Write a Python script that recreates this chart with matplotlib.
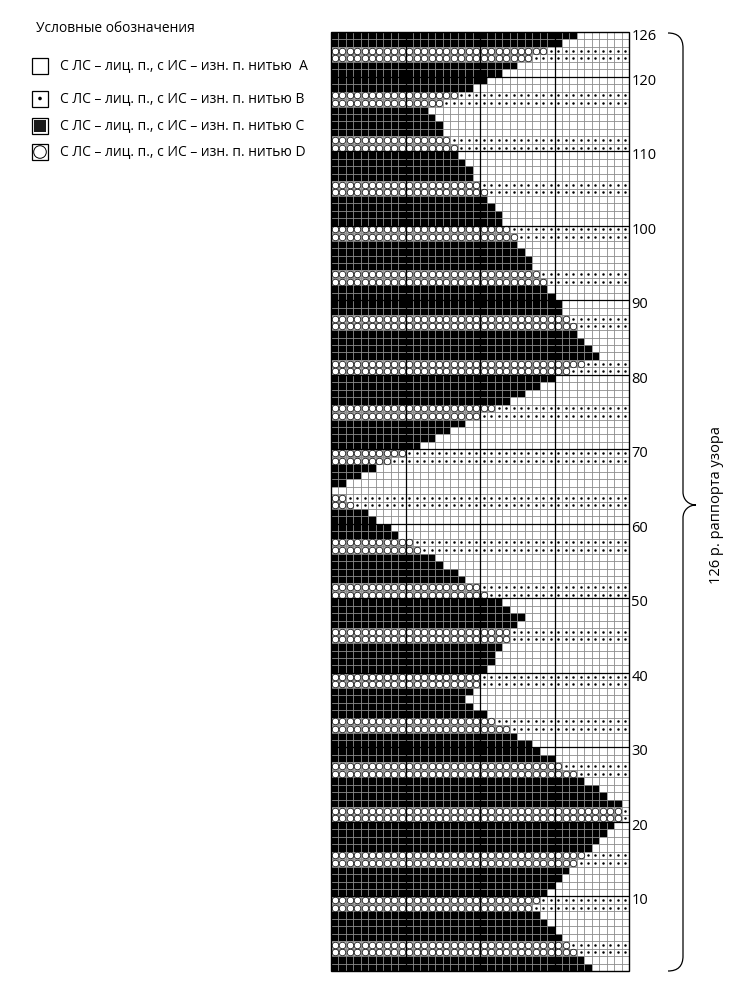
import matplotlib
matplotlib.use('Agg')
import matplotlib.pyplot as plt
from matplotlib.patches import Rectangle, Circle, PathPatch
from matplotlib.path import Path
import numpy as np

plt.rcParams['font.family'] = ['Open Sans', 'DejaVu Sans']

# ---------------- data ----------------
n_cols = 40
n_rows = 126
# number of stitches (from the left) worked in thread C or D in each row, rows 1..126
left_counts = [35, 34, 33, 32, 31, 30, 29, 28, 27, 28,
               29, 30, 31, 32, 33, 34, 35, 36, 37, 38,
               39, 39, 39, 37, 36, 34, 33, 31, 30, 28,
               27, 25, 24, 22, 21, 19, 18, 19, 20, 20,
               21, 22, 22, 23, 24, 24, 25, 26, 24, 23,
               21, 20, 18, 17, 15, 14, 12, 11, 9, 8,
               6, 5, 3, 2, 0, 2, 4, 6, 8, 10,
               12, 14, 16, 18, 20, 22, 24, 26, 28, 30,
               32, 34, 36, 35, 34, 33, 33, 32, 31, 31,
               30, 29, 29, 28, 27, 27, 26, 25, 25, 24,
               23, 23, 22, 21, 21, 20, 19, 19, 18, 17,
               17, 16, 15, 15, 14, 13, 15, 17, 19, 21,
               23, 25, 27, 29, 31, 33]
# thread of the left part of each row (C = filled, D = circle); right part is A (empty) or B (dot)
left_thread = ("CCDDCCCCDDCCCCDDCCCCDDCCCCDDCCCCDDCCCCDDCC"
               "CCDDCCCCDDCCCCDDCCCCDDCCCCDDCCCCDDCCCCDDCC"
               "CCDDCCCCDDCCCCDDCCCCDDCCCCDDCCCCDDCCCCDDCC")
right_thread = {"C": "A", "D": "B"}

label_rows = [10, 20, 30, 40, 50, 60, 70, 80, 90, 100, 110, 120, 126]
label_texts = ["10", "20", "30", "40", "50", "60", "70", "80", "90", "100", "110", "120", "126"]

legend_title = "Условные обозначения"
legend_symbols = ["A", "B", "C", "D"]
legend_labels = ["С ЛС – лиц. п., с ИС – изн. п. нитью  A",
                 "С ЛС – лиц. п., с ИС – изн. п. нитью B",
                 "С ЛС – лиц. п., с ИС – изн. п. нитью C",
                 "С ЛС – лиц. п., с ИС – изн. п. нитью D"]
brace_label = "126 р. раппорта узора"

# ---------------- figure ----------------
W, H = 756, 1000
fig = plt.figure(figsize=(W / 100, H / 100), dpi=100)
fig.patch.set_facecolor('white')

gx0, gx1, gy0, gy1 = 331, 629, 32, 971  # grid box in pixels (y down)
ax = fig.add_axes([gx0 / W, 1 - gy1 / H, (gx1 - gx0) / W, (gy1 - gy0) / H])
ax.set_xlim(0, n_cols)
ax.set_ylim(0, n_rows)
ax.axis('off')

rows = np.arange(1, n_rows + 1)
counts = np.array(left_counts)
threads = np.array(list(left_thread))

# filled (C) runs
cmask = threads == "C"
ax.barh(rows[cmask] - 0.5, counts[cmask], height=1, left=0, color='black',
        linewidth=0, zorder=1)
# circle (D) runs: grey background + white circles
dmask = threads == "D"
ax.barh(rows[dmask] - 0.5, counts[dmask], height=1, left=0, color='#b5b5b5',
        linewidth=0, zorder=1)

cx, cy, dx, dy = [], [], [], []
for r, c, t in zip(rows, counts, threads):
    if t == "D":
        for i in range(n_cols):
            if i < c:
                cx.append(i + 0.5); cy.append(r - 0.5)
            elif right_thread[t] == "B":
                dx.append(i + 0.5); dy.append(r - 0.5)
ax.scatter(cx, cy, s=22, facecolor='white', edgecolor='black', linewidths=0.5, zorder=3)
ax.scatter(dx, dy, s=3.2, color='black', linewidths=0, zorder=3)

# grid
ax.vlines(np.arange(n_cols + 1), 0, n_rows, color='#8c8c8c', lw=0.6, zorder=2)
ax.hlines(np.arange(n_rows + 1), 0, n_cols, color='#8c8c8c', lw=0.6, zorder=2)
ax.vlines([10, 20, 30], 0, n_rows, color='black', lw=0.9, zorder=4)
ax.hlines(np.arange(10, n_rows, 10), 0, n_cols, color='black', lw=0.9, zorder=4)
ax.add_patch(Rectangle((0, 0), n_cols, n_rows, fill=False, ec='black', lw=1.0,
                       zorder=5, clip_on=False))

# row labels
for r, t in zip(label_rows, label_texts):
    ax.text(n_cols + 0.3, r - 0.6, t, ha='left', va='center', fontsize=10.5,
            clip_on=False)

# ---------------- overlay (pixel coordinates) ----------------
ov = fig.add_axes([0, 0, 1, 1])
ov.set_xlim(0, W)
ov.set_ylim(H, 0)
ov.axis('off')
ov.patch.set_alpha(0)

# brace
verts = [(668, 33), (678, 33), (683, 38), (683, 48),
         (683, 492),
         (683, 500), (689, 505), (696, 505),
         (689, 505), (683, 510), (683, 518),
         (683, 956),
         (683, 966), (678, 971), (668, 971)]
codes = [Path.MOVETO, Path.CURVE4, Path.CURVE4, Path.CURVE4,
         Path.LINETO,
         Path.CURVE4, Path.CURVE4, Path.CURVE4,
         Path.CURVE4, Path.CURVE4, Path.CURVE4,
         Path.LINETO,
         Path.CURVE4, Path.CURVE4, Path.CURVE4]
ov.add_patch(PathPatch(Path(verts, codes), fill=False, ec='black', lw=0.9))
ov.text(716, 505, brace_label, rotation=90, ha='center', va='center', fontsize=10.5)

# legend
ov.text(36, 29, legend_title, ha='left', va='center', fontsize=9.9)
box_y = [66, 98.5, 125.5, 152]
for sym, lab, y in zip(legend_symbols, legend_labels, box_y):
    x0, s = 32, 16
    if sym == "C":
        ov.add_patch(Rectangle((x0, y - s / 2), s, s, fc='white', ec='black', lw=0.9))
        ov.add_patch(Rectangle((x0 + 2, y - s / 2 + 2), s - 4, s - 4, fc='#1a1a1a', ec='none'))
    else:
        ov.add_patch(Rectangle((x0, y - s / 2), s, s, fc='white', ec='black', lw=0.9))
    if sym == "B":
        ov.add_patch(Circle((x0 + s / 2, y), 1.8, fc='black', ec='none'))
    if sym == "D":
        ov.add_patch(Circle((x0 + s / 2, y), 6.3, fc='white', ec='black', lw=0.7))
    ov.text(60, y, lab, ha='left', va='center', fontsize=10)

fig.savefig('out.png', dpi=100, facecolor='white')
